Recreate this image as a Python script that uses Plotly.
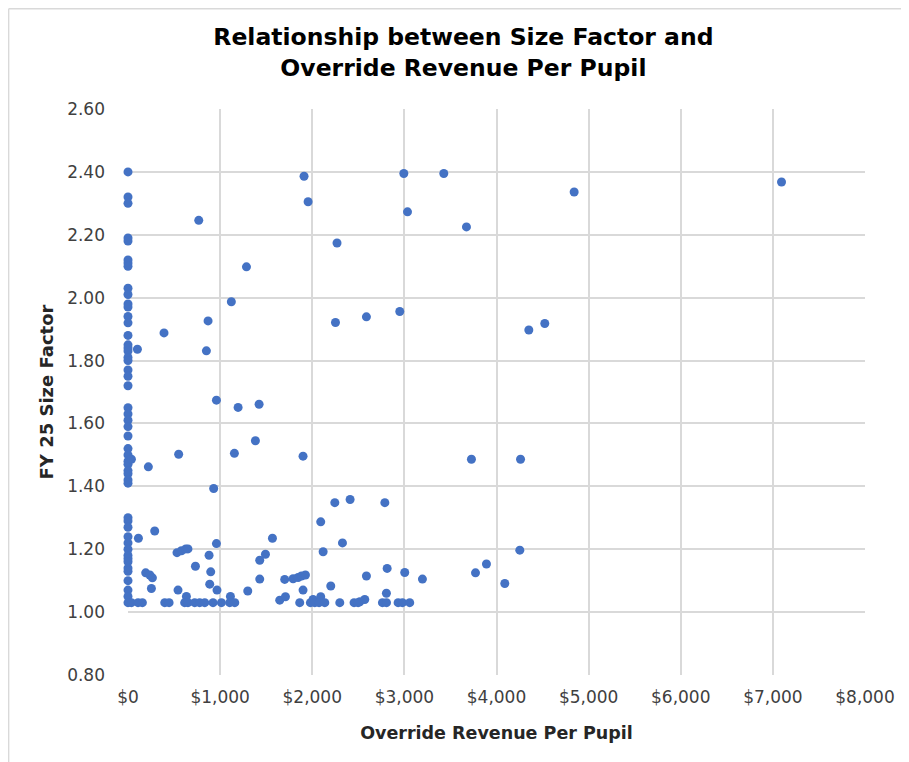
import plotly.graph_objects as go

# Schools with no override revenue (x = $0)
zero_x_sizes = [2.40, 2.32, 2.30, 2.19, 2.18, 2.12, 2.11, 2.10, 2.03, 2.01, 1.98, 1.97,
                1.94, 1.92, 1.88, 1.85, 1.84, 1.83, 1.81, 1.80, 1.77, 1.75, 1.72, 1.65,
                1.63, 1.61, 1.59, 1.56, 1.52, 1.50, 1.48, 1.47, 1.45, 1.44, 1.42, 1.41,
                1.30, 1.29, 1.27, 1.24, 1.22, 1.20, 1.18, 1.17, 1.16, 1.14, 1.13, 1.10,
                1.07, 1.05, 1.03]

# Schools with override revenue
override_rev = [768, 1286, 1122, 869, 391, 102, 851, 960, 1195, 1423, 1383, 550, 1155,
                1900, 37, 221, 930, 113, 290, 1568, 960, 532, 580, 627, 651, 880, 732,
                898, 192, 237, 265, 1430, 1492, 1430, 1701, 1792, 1846, 1883, 1926, 254,
                543, 887, 966, 1300, 1647, 1709, 1900, 2201, 2092, 2805, 2570, 2516, 1864,
                1911, 1955, 2994, 3428, 3034, 3674, 2269, 2252, 2588, 2950, 4843, 7094,
                4351, 4524, 3728, 4261, 2245, 2411, 2788, 2092, 2328, 2118, 2813, 3004,
                3196, 3772, 2588, 3891, 4090, 4253, 634, 1112, 2009,
                37, 109, 156, 399, 446, 615, 651, 724, 778, 833, 923, 1014, 1104, 1159,
                1980, 2027, 2074, 2136, 2299, 2454, 2498, 2762, 2806, 2932, 2979, 3058]
override_size = [2.246, 2.098, 1.987, 1.926, 1.888, 1.836, 1.831, 1.674, 1.651, 1.661,
                 1.545, 1.502, 1.505, 1.496, 1.486, 1.462, 1.393, 1.235, 1.258, 1.235,
                 1.218, 1.189, 1.195, 1.201, 1.201, 1.181, 1.146, 1.128, 1.125, 1.118,
                 1.109, 1.165, 1.184, 1.105, 1.104, 1.106, 1.110, 1.115, 1.118, 1.075,
                 1.070, 1.089, 1.070, 1.067, 1.038, 1.049, 1.070, 1.083, 1.049, 1.060,
                 1.040, 1.033, 1.030,
                 2.386, 2.305, 2.395, 2.395, 2.273, 2.225, 2.174, 1.921, 1.939, 1.956,
                 2.336, 2.368, 1.897, 1.918, 1.486, 1.486, 1.348, 1.358, 1.348, 1.287,
                 1.220, 1.192, 1.139, 1.126, 1.105, 1.125, 1.115, 1.153, 1.091, 1.197,
                 1.050, 1.050, 1.040,
                 1.03, 1.03, 1.03, 1.03, 1.03, 1.03, 1.03, 1.03, 1.03, 1.03, 1.03, 1.03,
                 1.03, 1.03, 1.03, 1.03, 1.03, 1.03, 1.03, 1.03, 1.03, 1.03, 1.03, 1.03,
                 1.03, 1.03]

xs = [0] * len(zero_x_sizes) + override_rev
ys = zero_x_sizes + override_size

x_ticks = [0, 1000, 2000, 3000, 4000, 5000, 6000, 7000, 8000]
x_tick_labels = ["$0", "$1,000", "$2,000", "$3,000", "$4,000", "$5,000", "$6,000", "$7,000", "$8,000"]
y_ticks = [0.8, 1.0, 1.2, 1.4, 1.6, 1.8, 2.0, 2.2, 2.4, 2.6]
y_tick_labels = ["0.80", "1.00", "1.20", "1.40", "1.60", "1.80", "2.00", "2.20", "2.40", "2.60"]

FONT = "DejaVu Sans"
fig = go.Figure()
fig.add_trace(go.Scatter(
    x=xs, y=ys, mode="markers",
    marker=dict(color="#4472C4", size=9, line=dict(width=0)),
    showlegend=False, cliponaxis=False,
))

grid = "#D9D9D9"
fig.update_layout(
    width=909, height=762,
    paper_bgcolor="white", plot_bgcolor="white",
    margin=dict(l=120, r=52, t=101, b=95),
    font=dict(family=FONT, color="#404040", size=17),
    title=dict(
        text="<b>Relationship between Size Factor and<br>Override Revenue Per Pupil</b>",
        x=0.501, xanchor="center", y=0.951, yanchor="top",
        font=dict(family=FONT, size=23.5, color="#000000"),
    ),
    xaxis=dict(
        range=[0, 8000], tickvals=x_ticks, ticktext=x_tick_labels,
        showgrid=True, gridcolor=grid, gridwidth=1.5,
        zeroline=False, showline=False, ticks="", ticklabelstandoff=10,
        tickfont=dict(family=FONT, size=17, color="#404040"),
        title=dict(text="<b>Override Revenue Per Pupil</b>", standoff=20,
                   font=dict(family=FONT, size=17.5, color="#262626")),
    ),
    yaxis=dict(
        range=[0.8, 2.6], tickvals=y_ticks, ticktext=y_tick_labels,
        showgrid=True, gridcolor=grid, gridwidth=1.5,
        zeroline=False, showline=False, ticks="", ticklabelstandoff=22,
        tickfont=dict(family=FONT, size=17, color="#404040"),
        title=dict(text="<b>FY 25 Size Factor</b>", standoff=8,
                   font=dict(family=FONT, size=18, color="#262626")),
    ),
    shapes=[
        dict(type="line", xref="paper", yref="paper", x0=-0.162, x1=1.2, y0=1.177, y1=1.177,
             line=dict(color="#D9D9D9", width=1.5)),
        dict(type="line", xref="paper", yref="paper", x0=-0.162, x1=-0.162, y0=-0.2, y1=1.177,
             line=dict(color="#D9D9D9", width=1.5)),
    ],
)

fig.write_html("out.html")
